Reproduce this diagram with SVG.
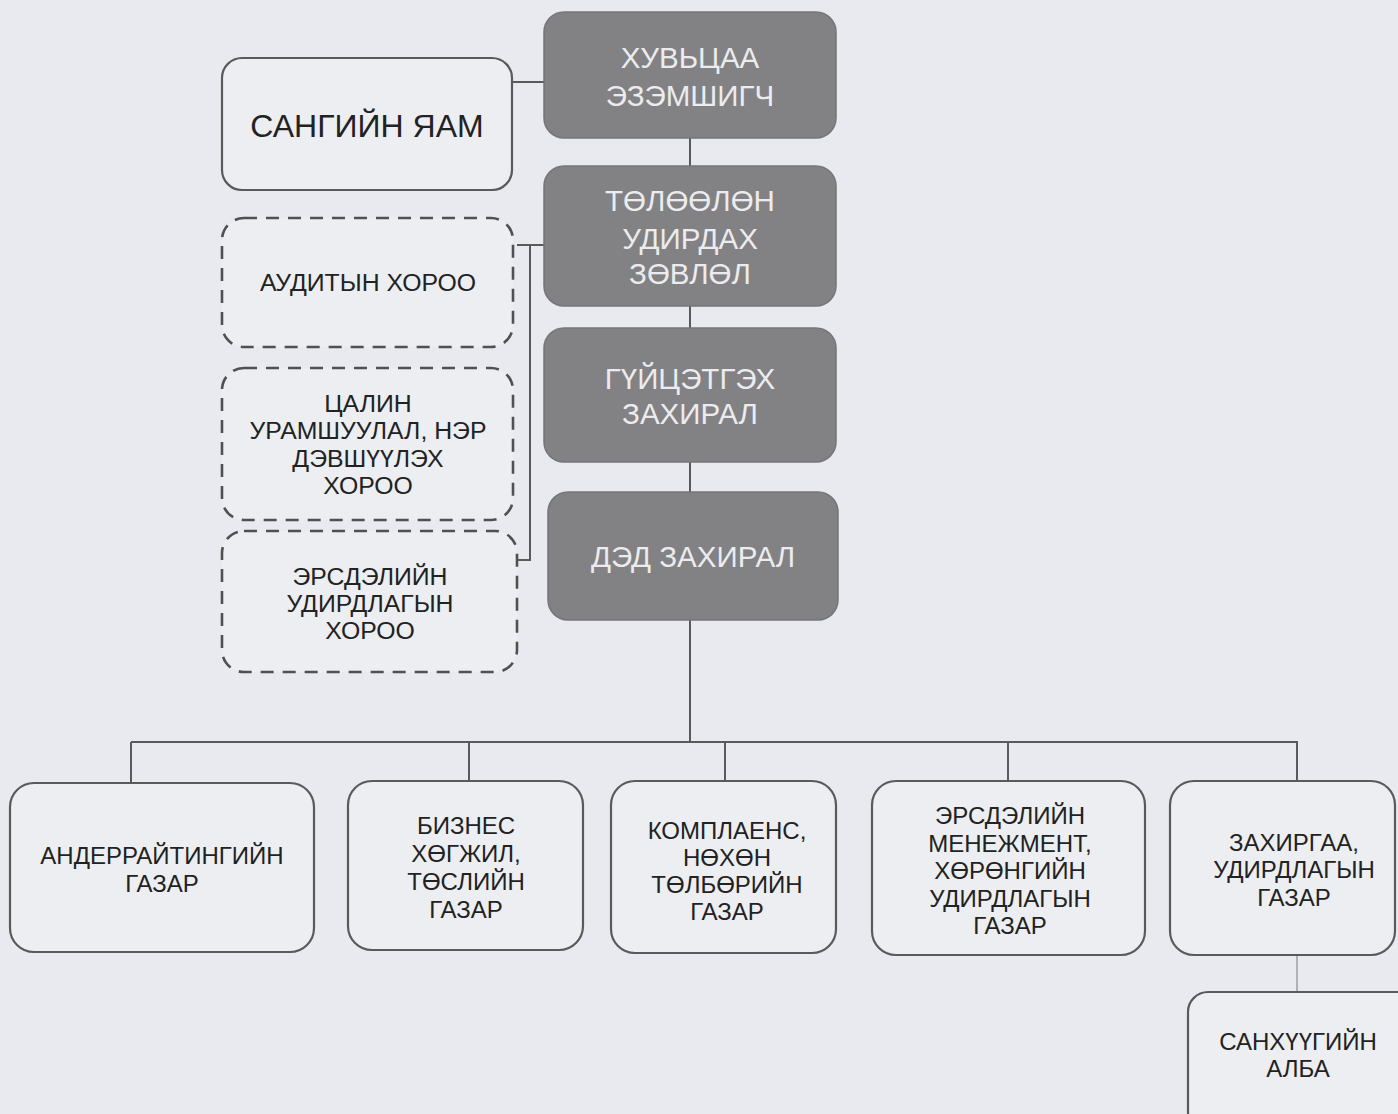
<svg xmlns="http://www.w3.org/2000/svg" width="1398" height="1114" viewBox="0 0 1398 1114">
<style>
.bg{fill:#e8eaef}
.dark{fill:#828285;stroke:#76767a;stroke-width:1.5}
.light{fill:#eceef2;stroke:#5a5a5c;stroke-width:2.2}
.dash{fill:#eceef2;stroke:#505052;stroke-width:2.6;stroke-dasharray:13 9}
.conn{fill:none;stroke:#5a5a5c;stroke-width:2}
.thin{fill:none;stroke:#8a8a8c;stroke-width:1.2}
text{font-family:"Liberation Sans",Arial,sans-serif;text-anchor:middle}
.wt{fill:#ececee;font-size:29.5px}
.bt{fill:#222;font-size:24px}
.dt{fill:#222;font-size:24.8px}
.big{fill:#222;font-size:32px}
</style>
<rect class="bg" x="0" y="0" width="1398" height="1114"/>
<g id="connectors">
<line class="conn" x1="512" y1="82" x2="544" y2="82"/>
<line class="conn" x1="690" y1="138" x2="690" y2="166"/>
<line class="conn" x1="690" y1="306" x2="690" y2="328"/>
<line class="conn" x1="690" y1="462" x2="690" y2="492"/>
<polyline class="conn" points="544,245 517,245"/>
<polyline class="conn" points="530,245 530,560 514,560"/>
<line class="conn" x1="690" y1="620" x2="690" y2="742"/>
<line class="conn" x1="131" y1="742" x2="1298" y2="742"/>
<line class="conn" x1="131" y1="742" x2="131" y2="783"/>
<line class="conn" x1="469" y1="742" x2="469" y2="781"/>
<line class="conn" x1="725" y1="742" x2="725" y2="781"/>
<line class="conn" x1="1008" y1="742" x2="1008" y2="781"/>
<line class="conn" x1="1297" y1="742" x2="1297" y2="781"/>
<line class="thin" x1="1297" y1="955" x2="1297" y2="992"/>
</g>
<g id="n-shareholder">
<rect class="dark" x="544" y="12" width="292" height="126" rx="20"/>
<text class="wt" x="690" y="68">ХУВЬЦАА</text>
<text class="wt" x="690" y="106">ЭЗЭМШИГЧ</text>
</g>
<g id="n-ministry">
<rect class="light" x="222" y="58" width="290" height="132" rx="20"/>
<text class="big" x="367" y="137">САНГИЙН ЯАМ</text>
</g>
<g id="n-board">
<rect class="dark" x="544" y="166" width="292" height="140" rx="20"/>
<text class="wt" x="690" y="211">ТӨЛӨӨЛӨН</text>
<text class="wt" x="690" y="249">УДИРДАХ</text>
<text class="wt" x="690" y="284">ЗӨВЛӨЛ</text>
</g>
<g id="n-ceo">
<rect class="dark" x="544" y="328" width="292" height="134" rx="20"/>
<text class="wt" x="690" y="389">ГҮЙЦЭТГЭХ</text>
<text class="wt" x="690" y="424">ЗАХИРАЛ</text>
</g>
<g id="n-deputy">
<rect class="dark" x="548" y="492" width="290" height="128" rx="20"/>
<text class="wt" x="693" y="567">ДЭД ЗАХИРАЛ</text>
</g>
<g id="n-audit">
<rect class="dash" x="222" y="218" width="291" height="129" rx="22"/>
<text class="dt" x="368" y="291">АУДИТЫН ХОРОО</text>
</g>
<g id="n-remuneration">
<rect class="dash" x="222" y="368" width="291" height="152" rx="22"/>
<text class="dt" x="368" y="412">ЦАЛИН</text>
<text class="dt" x="368" y="439">УРАМШУУЛАЛ, НЭР</text>
<text class="dt" x="368" y="467">ДЭВШҮҮЛЭХ</text>
<text class="dt" x="368" y="494">ХОРОО</text>
</g>
<g id="n-risk-committee">
<rect class="dash" x="222" y="531" width="295" height="141" rx="22"/>
<text class="dt" x="370" y="585">ЭРСДЭЛИЙН</text>
<text class="dt" x="370" y="612">УДИРДЛАГЫН</text>
<text class="dt" x="370" y="639">ХОРОО</text>
</g>
<g id="n-underwriting">
<rect class="light" x="10" y="783" width="304" height="169" rx="24"/>
<text class="bt" x="162" y="864">АНДЕРРАЙТИНГИЙН</text>
<text class="bt" x="162" y="892">ГАЗАР</text>
</g>
<g id="n-business">
<rect class="light" x="348" y="781" width="235" height="169" rx="24"/>
<text class="bt" x="466" y="834">БИЗНЕС</text>
<text class="bt" x="466" y="862">ХӨГЖИЛ,</text>
<text class="bt" x="466" y="890">ТӨСЛИЙН</text>
<text class="bt" x="466" y="918">ГАЗАР</text>
</g>
<g id="n-compliance">
<rect class="light" x="611" y="781" width="225" height="172" rx="24"/>
<text class="bt" x="727" y="839">КОМПЛАЕНС,</text>
<text class="bt" x="727" y="866">НӨХӨН</text>
<text class="bt" x="727" y="893">ТӨЛБӨРИЙН</text>
<text class="bt" x="727" y="920">ГАЗАР</text>
</g>
<g id="n-riskmgmt">
<rect class="light" x="872" y="781" width="273" height="174" rx="24"/>
<text class="bt" x="1010" y="824">ЭРСДЭЛИЙН</text>
<text class="bt" x="1010" y="852">МЕНЕЖМЕНТ,</text>
<text class="bt" x="1010" y="879">ХӨРӨНГИЙН</text>
<text class="bt" x="1010" y="907">УДИРДЛАГЫН</text>
<text class="bt" x="1010" y="934">ГАЗАР</text>
</g>
<g id="n-admin">
<rect class="light" x="1170" y="781" width="225" height="174" rx="24"/>
<text class="bt" x="1294" y="851">ЗАХИРГАА,</text>
<text class="bt" x="1294" y="878">УДИРДЛАГЫН</text>
<text class="bt" x="1294" y="906">ГАЗАР</text>
</g>
<g id="n-finance">
<rect class="light" x="1188" y="992" width="230" height="140" rx="20"/>
<text class="bt" x="1298" y="1050">САНХҮҮГИЙН</text>
<text class="bt" x="1298" y="1077">АЛБА</text>
</g>
</svg>
